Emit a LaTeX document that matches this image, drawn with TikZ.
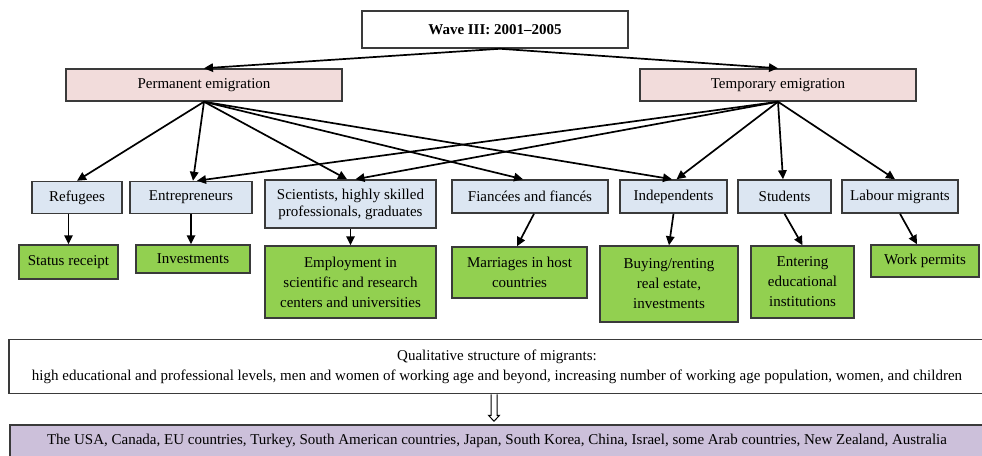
\documentclass[tikz,border=0pt]{standalone}
\usepackage{fontspec}
\setmainfont{Liberation Serif}
\usetikzlibrary{arrows.meta}
\definecolor{pinkfill}{HTML}{F2DCDB}
\definecolor{bluefill}{HTML}{DCE6F2}
\definecolor{greenfill}{HTML}{92D050}
\definecolor{purplefill}{HTML}{CCC0DA}
\definecolor{boxline}{HTML}{3A3A3A}
\begin{document}
\begin{tikzpicture}[x=1pt,y=-1pt,font=\fontsize{15}{20}\selectfont]
  \tikzstyle{box}=[draw=boxline,line width=1.5pt,inner sep=0pt,align=center]
  \tikzstyle{top box}=[box,fill=white,font=\fontsize{15}{20}\selectfont\bfseries]
  \tikzstyle{pink box}=[box,fill=pinkfill]
  \tikzstyle{blue box}=[box,fill=bluefill]
  \tikzstyle{green box}=[box,fill=greenfill]
  \tikzstyle{arr}=[line width=1.7pt,-{Triangle[length=9pt,width=8.5pt]}]

  \useasboundingbox (0,0) rectangle (982,455);

  \node(wave)[top box,minimum width=266pt,minimum height=37pt] at (495,29.5) {Wave III: 2001--2005};
  \node(perm)[pink box,minimum width=276pt,minimum height=32pt] at (204,85) {Permanent emigration};
  \node(temp)[pink box,minimum width=276pt,minimum height=32pt] at (778,85) {Temporary emigration};

  % groups of migrants
  \node(refugees)[blue box,minimum width=90pt,minimum height=32pt] at (77,197.5) {Refugees};
  \node(entre)[blue box,minimum width=122pt,minimum height=32pt] at (191,197.5) {Entrepreneurs};
  \node(sci)[blue box,minimum width=171pt,minimum height=48pt,font=\fontsize{15}{17}\selectfont] at (350.5,204)
      {Scientists, highly skilled\\professionals, graduates};
  \node(fian)[blue box,minimum width=156pt,minimum height=33pt] at (530,196.5) {Fiancées and fiancés};
  \node(indep)[blue box,minimum width=107pt,minimum height=33pt] at (673.5,196.5) {Independents};
  \node(stud)[blue box,minimum width=93pt,minimum height=33pt] at (784.5,196.5) {Students};
  \node(labour)[blue box,minimum width=116pt,minimum height=33pt] at (900,196.5) {Labour migrants};

  % channels
  \node(status)[green box,minimum width=99pt,minimum height=34pt] at (68.5,262) {Status receipt};
  \node(invest)[green box,minimum width=114pt,minimum height=28pt] at (193,259) {Investments};
  \node(employ)[green box,minimum width=171pt,minimum height=72pt] at (350.5,282)
      {Employment in\\scientific and research\\centers and universities};
  \node(marr)[green box,minimum width=135pt,minimum height=51pt] at (519.5,272.5)
      {Marriages in host\\countries};
  \node(buying)[green box,minimum width=138pt,minimum height=76pt] at (669,284)
      {Buying/renting\\real estate,\\investments};
  \node(enter)[green box,minimum width=103pt,minimum height=72pt] at (802.5,282)
      {Entering\\educational\\institutions};
  \node(work)[green box,minimum width=108pt,minimum height=32pt] at (925,261) {Work permits};

  \node(qual)[box,fill=white,minimum width=976pt,minimum height=54pt] at (497,366.5)
      {Qualitative structure of migrants:\\high educational and professional levels, men and women of working age and beyond, increasing number of working age population, women, and children};
  \node(countries)[box,fill=purplefill,minimum width=974pt,minimum height=32pt] at (497,441)
      {The USA, Canada, EU countries, Turkey, South American countries, Japan, South Korea, China, Israel, some Arab countries, New Zealand, Australia};

  \draw[arr] ([xshift=5pt]wave.south) -- (perm.north);
  \draw[arr] ([xshift=5pt]wave.south) -- (temp.north);

  \draw[arr] (perm.south) -- (refugees.north);
  \draw[arr] (perm.south) -- ([xshift=2pt]entre.north);
  \draw[arr] (perm.south) -- ([xshift=-3.5pt]sci.north);
  \draw[arr] (perm.south) -- ([xshift=-7pt]fian.north);
  \draw[arr] (perm.south) -- ([xshift=-1.5pt]indep.north);

  \draw[arr] (temp.south) -- ([xshift=6pt]entre.north);
  \draw[arr] (temp.south) -- ([xshift=5pt]sci.north);
  \draw[arr] (temp.south) -- ([xshift=3pt]indep.north);
  \draw[arr] (temp.south) -- ([xshift=-1.5pt]stud.north);
  \draw[arr] (temp.south) -- ([xshift=-5pt]labour.north);

  \draw[arr] (refugees.south -| status.north) -- (status.north);
  \draw[arr] (entre.south) -- (entre.south |- invest.north);
  \draw[arr] (sci.south) -- (employ.north);
  \draw[arr] ([xshift=4pt]fian.south) -- ([xshift=-2.5pt]marr.north);
  \draw[arr] (indep.south) -- (buying.north);
  \draw[arr] (stud.south) -- (enter.north);
  \draw[arr] (labour.south) -- ([xshift=-8pt]work.north);

  % hollow arrow to destinations
  \coordinate (tip) at ([xshift=-3pt,yshift=3pt]countries.north);
  \draw[line width=1pt,fill=white] ([xshift=-6pt]qual.south) -- ([xshift=-6pt,yshift=-21pt]qual.south)
      -- ([xshift=-8.5pt,yshift=-21pt]qual.south) -- (tip) -- ([xshift=2.5pt,yshift=-21pt]qual.south)
      -- ([yshift=-21pt]qual.south) -- (qual.south);
\end{tikzpicture}
\end{document}
